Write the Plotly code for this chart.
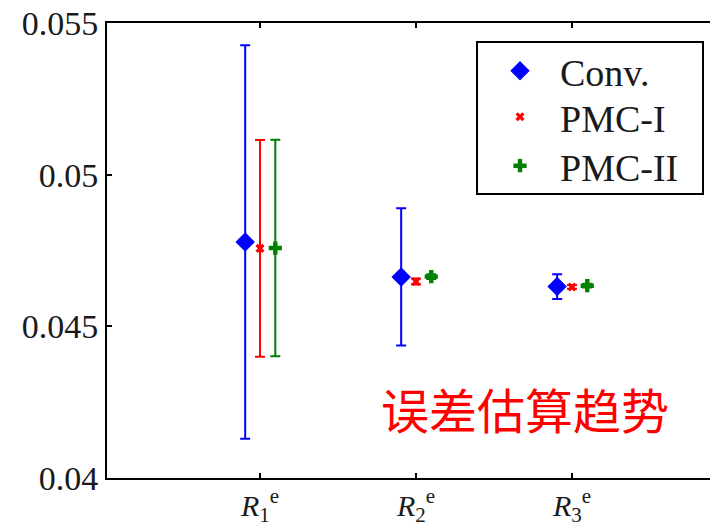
import plotly.graph_objects as go

# Estimated quantity per refinement level, with its error half-width
categories = ["R1", "R2", "R3"]
tick_labels = ["<i>R</i><sub>1</sub><sup>e</sup>",
               "<i>R</i><sub>2</sub><sup>e</sup>",
               "<i>R</i><sub>3</sub><sup>e</sup>"]

conv_mean = [0.04778, 0.04663, 0.04631]
conv_err = [0.00649, 0.00226, 0.00041]

pmc1_mean = [0.04757, 0.04648, 0.04630]
pmc1_err = [0.00357, 0.00010, 0.00006]

pmc2_mean = [0.04758, 0.04664, 0.04634]
pmc2_err = [0.00357, 0.00008, 0.00006]

series = [
    ("Conv.", conv_mean, conv_err, "#0000ff", "diamond", 15, -0.095),
    ("PMC-I", pmc1_mean, pmc1_err, "#ff0000", "x", 8, 0.0),
    ("PMC-II", pmc2_mean, pmc2_err, "#008000", "cross", 11, 0.098),
]

positions = [1, 2, 3]

font_serif = "Liberation Serif, Times New Roman, serif"
legend_font = dict(family=font_serif, size=38, color="#1a1a1a")

# one legend per series so the rows can be spaced freely inside a shared box
legend_ids = ["legend", "legend2", "legend3"]
legend_rows = [0.8945, 0.7934, 0.6857]

fig = go.Figure()
for (name, mean, err, color, symbol, size, shift), lid in zip(series, legend_ids):
    fig.add_trace(go.Scatter(
        x=[p + shift for p in positions],
        y=mean,
        mode="markers",
        name=name,
        legend=lid,
        marker=dict(symbol=symbol, size=size, color=color, line=dict(width=0)),
        error_y=dict(type="data", array=err, visible=True, color=color,
                     thickness=2, width=5),
    ))

# red caption inside the plot area
fig.add_annotation(
    x=1.76, y=0.04232, xref="x", yref="y",
    text="误差估算趋势", showarrow=False, xanchor="left", yanchor="middle",
    font=dict(family="Noto Sans CJK SC", size=48, color="#ff0000"),
)

# legend frame
fig.add_shape(type="rect", xref="paper", yref="paper",
              x0=0.6136, x1=0.9884, y0=0.6242, y1=0.9582,
              line=dict(color="black", width=2), fillcolor="white", layer="below")

legend_layout = {}
for lid, row in zip(legend_ids, legend_rows):
    legend_layout[lid] = dict(
        x=0.6186, y=row, xanchor="left", yanchor="middle",
        bgcolor="rgba(0,0,0,0)", borderwidth=0,
        font=legend_font, itemwidth=70,
    )

fig.update_layout(
    width=710, height=531,
    margin=dict(l=107, r=0, t=23, b=53),
    paper_bgcolor="white", plot_bgcolor="white",
    font=dict(family=font_serif, size=32, color="#1a1a1a"),
    showlegend=True,
    xaxis=dict(
        range=[0.019, 3.885],
        tickvals=positions, ticktext=tick_labels,
        ticks="inside", ticklen=5, tickwidth=2, tickcolor="black",
        showline=True, linecolor="black", linewidth=2, mirror="ticks",
        showgrid=False, zeroline=False,
        tickfont=dict(family=font_serif, size=30),
    ),
    yaxis=dict(
        range=[0.04, 0.055],
        tickvals=[0.04, 0.045, 0.05, 0.055],
        ticktext=["0.04", "0.045", "0.05", "0.055"],
        ticks="inside", ticklen=5, tickwidth=2, tickcolor="black",
        showline=True, linecolor="black", linewidth=2,
        showgrid=False, zeroline=False,
        tickfont=dict(family=font_serif, size=34),
    ),
    **legend_layout,
)

fig.write_html("out.html")
